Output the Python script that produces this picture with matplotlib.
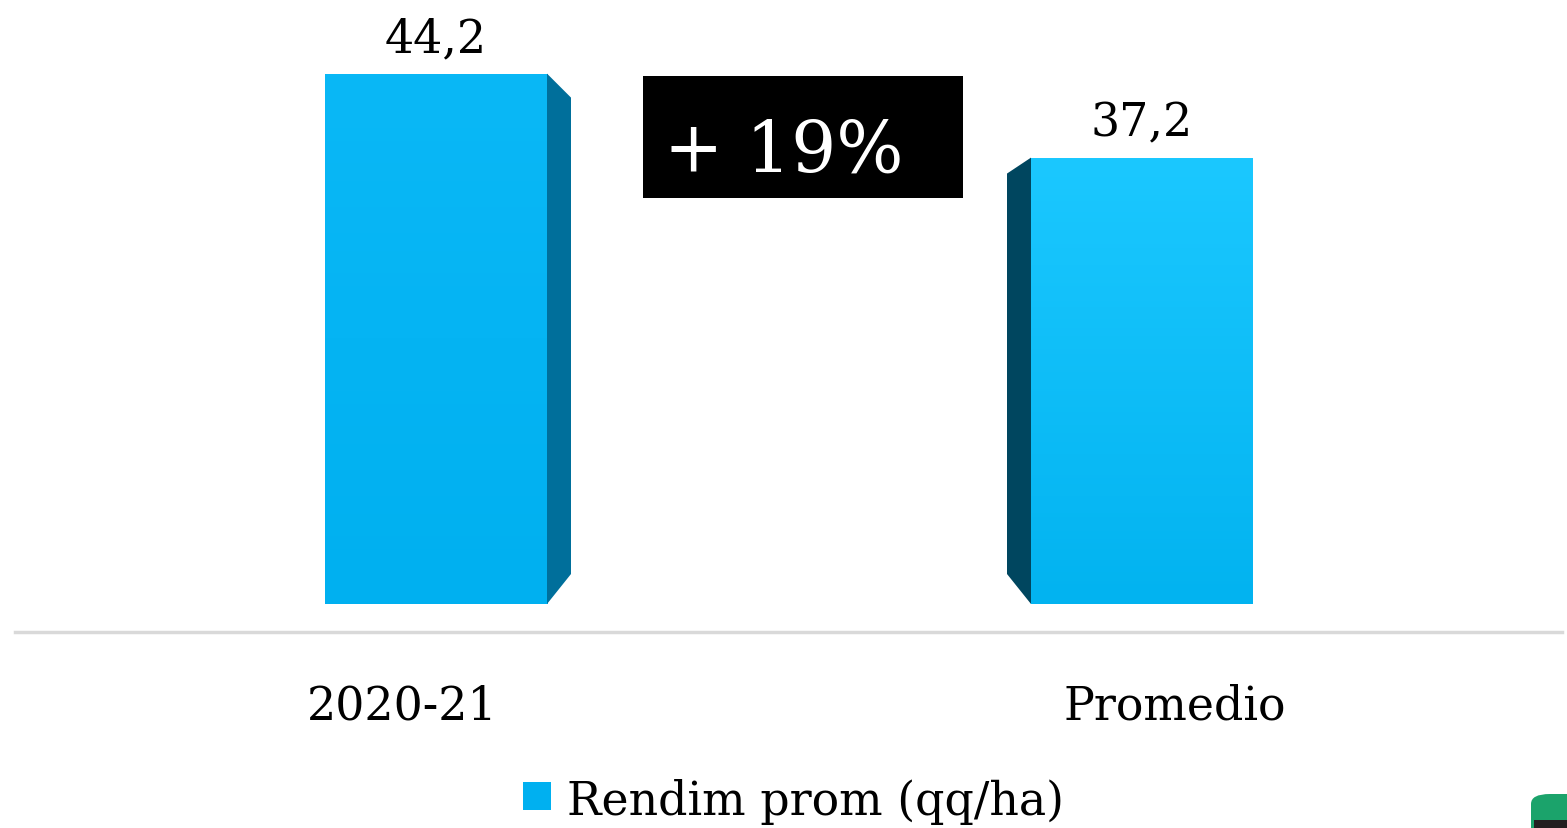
import matplotlib
matplotlib.use("Agg")
from matplotlib import pyplot as plt
from matplotlib.patches import Polygon, Rectangle, FancyBboxPatch
import numpy as np

# data
categories = ["2020-21", "Promedio"]
values = [44.2, 37.2]
value_labels = ["44,2", "37,2"]
series_name = "Rendim prom (qq/ha)"
change_label = "+ 19%"

W, H = 1567, 829
plt.rcParams['font.family'] = ['DejaVu Serif']

fig = plt.figure(figsize=(W / 100, H / 100), dpi=100)
ax = fig.add_axes([0, 0, 1, 1])
ax.set_axis_off()

# pixel mapping: bar 0 centre at 436 px, 706 px between bars, 12 px per unit, zero at 605 px from top
x0_px, step_px, unit_px, zero_px = 436, 706, 12.0, 605
ax.set_xlim(-x0_px / step_px, (W - x0_px) / step_px)
ax.set_ylim(-(H - zero_px) / unit_px, zero_px / unit_px)

bar_w = 222 / step_px
depth = 24 / step_px
front_top = [("#0AB8F6", "#00B0F0"), ("#1BC8FF", "#02B3F0")]
side_col = ["#006F9B", "#00465F"]
side_dir = [1, -1]

for i, v in enumerate(values):
    left = i - bar_w / 2
    right = i + bar_w / 2
    # front face with vertical gradient
    rect = Rectangle((left, 0), bar_w, v, facecolor="none", edgecolor="none")
    ax.add_patch(rect)
    c1 = np.array(matplotlib.colors.to_rgb(front_top[i][0]))
    c2 = np.array(matplotlib.colors.to_rgb(front_top[i][1]))
    t = np.linspace(0, 1, 100)[:, None]
    grad = (c1 * (1 - t) + c2 * t)[:, None, :]
    im = ax.imshow(grad, extent=(left, right, 0, v), aspect="auto", zorder=2,
                   interpolation="bilinear")
    im.set_clip_path(rect)
    # side face
    if side_dir[i] > 0:
        edge = right
        outer = right + depth
        poly = [(edge, v), (outer, v - 2.0), (outer, 2.5), (edge, 0)]
    else:
        edge = left
        outer = left - depth
        poly = [(edge, v), (outer, v - 1.33), (outer, 2.5), (edge, 0)]
    ax.add_patch(Polygon(poly, closed=True, facecolor=side_col[i], edgecolor="none", zorder=2))
    # value label
    ax.annotate(value_labels[i], (i, v), xytext=(0, 16), textcoords="offset points",
                ha="center", va="baseline", fontsize=33, color="black")

# baseline
ax.plot([ax.get_xlim()[0] + 15 / step_px, ax.get_xlim()[0] + 1562 / step_px], [-28 / unit_px] * 2,
        color="#D9D9D9", lw=2.5, zorder=1)

# category labels (slightly offset from the bars, as in the original)
cat_offsets = [-0.048, 0.047]
for i, c in enumerate(categories):
    ax.text(i + cat_offsets[i], -115 / unit_px, c, ha="center", va="baseline",
            fontsize=33, color="black")

# change box
ax.add_patch(Rectangle((643 / W, 1 - 199 / H), 320 / W, 122 / H, transform=ax.transAxes,
                       facecolor="black", edgecolor="none", zorder=3))
ax.text(664 / W, 1 - 172 / H, change_label, transform=ax.transAxes, ha="left", va="baseline",
        fontsize=51, color="white", zorder=4)

# legend
ax.add_patch(Rectangle((523 / W, 1 - 811 / H), 28 / W, 28 / H, transform=ax.transAxes,
                       facecolor="#00B0F0", edgecolor="none"))
ax.text(567 / W, 1 - 815 / H, series_name, transform=ax.transAxes, ha="left", va="baseline",
        fontsize=33, color="black")

# small green badge in the corner
ax.add_patch(FancyBboxPatch((1531 / W, 1 - 850 / H), 60 / W, 55 / H, boxstyle="round,pad=0,rounding_size=0.012",
                            transform=ax.transAxes, facecolor="#1BA36B", edgecolor="none", clip_on=False))
ax.add_patch(Rectangle((1534 / W, 0), 40 / W, 8 / H, transform=ax.transAxes,
                       facecolor="#231F20", edgecolor="none"))

fig.savefig("out.png", dpi=100)
